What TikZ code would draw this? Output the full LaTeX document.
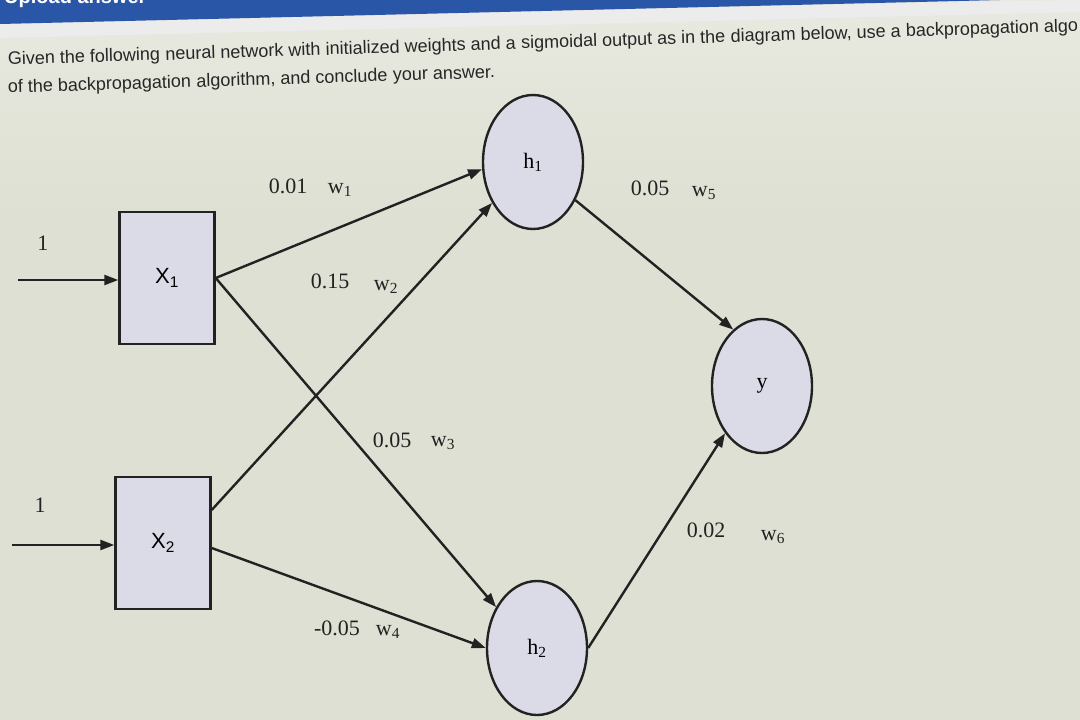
\documentclass[tikz,border=0pt]{standalone}
\usepackage{fontspec}
\setmainfont{Liberation Serif}
\newfontfamily\qfont{Liberation Sans}
\usetikzlibrary{shapes.geometric,arrows.meta}
\definecolor{bgc}{HTML}{DDE0D2}
\definecolor{topc}{HTML}{E8E9E0}
\definecolor{nodefill}{HTML}{DBDBE7}
\definecolor{bandc}{HTML}{2A56A8}
\definecolor{inkc}{HTML}{222222}
\begin{document}
\begin{tikzpicture}[x=1pt,y=-1pt,
  box/.style={draw=inkc,line width=2.4pt,fill=nodefill,minimum width=95pt,minimum height=132pt,inner sep=0pt,font=\qfont\fontsize{22}{24}\selectfont},
  neuron/.style={ellipse,draw=inkc,line width=2.4pt,fill=nodefill,minimum width=100pt,minimum height=134pt,inner sep=0pt,font=\fontsize{22}{24}\selectfont},
  conn/.style={draw=inkc,line width=2.4pt,-{Triangle[length=14pt,width=10pt]}},
  wlab/.style={inner sep=0pt,text=inkc,font=\fontsize{22}{24}\selectfont},
  qtext/.style={inner sep=0pt,anchor=base west,rotate=1.8,text=black!85,font=\qfont\fontsize{18}{20}\selectfont}
]
\useasboundingbox (0,0) rectangle (1080,720);
\fill[bgc] (0,0) rectangle (1080,720);
\shade[top color=topc,bottom color=bgc] (0,0) rectangle (1080,220);
\fill[white!85!gray] (0,38) -- (0,20) -- (1080,0) -- (1080,12) -- cycle;
\fill[bandc] (0,0) -- (1000,0) -- (0,24) -- cycle;
\node[inner sep=0pt,anchor=base west,text=white,font=\qfont\bfseries\fontsize{20}{22}\selectfont] (up) at (4,3) {Upload answer};

\node[qtext] (q1a) at (8,65) {Given the following};
\node[qtext] (q1b) at (q1a.base east) {\ neural network with};
\node[qtext] (q1c) at (q1b.base east) {\ initialized weights and a};
\node[qtext] (q1d) at (q1c.base east) {\ sigmoidal output as in the};
\node[qtext] (q1e) at (q1d.base east) {\ diagram below, use a};
\node[qtext] (q1f) at (q1e.base east) {\ backpropagation algo};
\node[qtext] (q2a) at (8,93) {of the backpropagation};
\node[qtext] (q2b) at (q2a.base east) {\ algorithm, and conclude};
\node[qtext] (q2c) at (q2b.base east) {\ your answer.};

\node[box] (x1) at (167,278) {X\textsubscript{1}};
\node[box] (x2) at (163,543) {X\textsubscript{2}};
\node[neuron] (h1) at (533,162) {h\textsubscript{1}};
\node[neuron] (h2) at (537,648) {h\textsubscript{2}};
\node[neuron] (y) at (762,386) {y};

\coordinate (in1) at (18,280);
\coordinate (in2) at (12,545);
\node[wlab] (l1) at (43,243) {1};
\node[wlab] (l2) at (40,505) {1};

\draw[conn] (in1) -- (x1.west |- in1);
\draw[conn] (in2) -- (x2.west |- in2);

\draw[conn] (x1.east) -- (h1.188);
\draw[conn] ([yshift=33pt]x2.east) -- (h1.225);
\draw[conn] (x1.east) -- (h2.135);
\draw[conn] ([yshift=-5pt]x2.east) -- (h2.west);
\draw[conn] (h1.-42) -- (y.117);
\draw[conn] (h2.east) -- (y.232);

\node[wlab] (w1v) at (288,186) {0.01};
\node[wlab] (w1n) at (340,190) {w\textsubscript{1}};
\node[wlab] (w2v) at (330,281) {0.15};
\node[wlab] (w2n) at (386,287) {w\textsubscript{2}};
\node[wlab] (w3v) at (392,440) {0.05};
\node[wlab] (w3n) at (443,443) {w\textsubscript{3}};
\node[wlab] (w4v) at (337,628) {-0.05};
\node[wlab] (w4n) at (388,632) {w\textsubscript{4}};
\node[wlab] (w5v) at (650,188) {0.05};
\node[wlab] (w5n) at (704,193) {w\textsubscript{5}};
\node[wlab] (w6v) at (706,530) {0.02};
\node[wlab] (w6n) at (773,537) {w\textsubscript{6}};
\end{tikzpicture}
\end{document}
